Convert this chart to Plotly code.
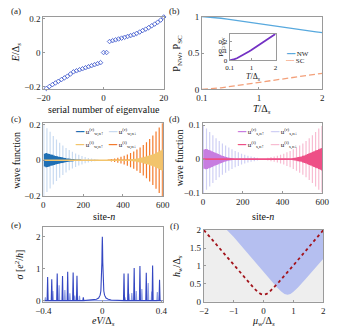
import plotly.graph_objects as go

W, H = 337, 335
SERIF = "Liberation Serif"

# ---------------- (a) eigenvalues ----------------
a_index = [-20, -19, -18, -17, -16, -15, -14, -13, -12, -11, -10, -9, -8, -7, -6, -5, -4, -3, -2, -1,
           0, 1,
           2, 3, 4, 5, 6, 7, 8, 9, 10, 11, 12, 13, 14, 15, 16, 17, 18, 19, 20]
a_energy = [-0.222, -0.212, -0.201, -0.19, -0.18, -0.17, -0.16, -0.15, -0.14, -0.127, -0.114,
            -0.108, -0.102, -0.096, -0.09, -0.084, -0.078, -0.072, -0.066, -0.06,
            0.0, 0.0,
            0.065, 0.07, 0.075, 0.08, 0.085, 0.09, 0.095, 0.1, 0.105, 0.113, 0.121, 0.13, 0.138,
            0.147, 0.158, 0.168, 0.179, 0.192, 0.21]

# ---------------- (b) probabilities ----------------
b_T = [0.1, 0.2, 0.3, 0.4, 0.5, 0.6, 0.7, 0.8, 0.9, 1.0, 1.1, 1.2, 1.3, 1.4, 1.5, 1.6, 1.7, 1.8, 1.9, 2.0]
b_NW = [1.0, 0.996, 0.988, 0.978, 0.966, 0.953, 0.94, 0.927, 0.913, 0.9, 0.887, 0.874, 0.861, 0.849,
        0.837, 0.825, 0.813, 0.802, 0.791, 0.78]
b_SC = [0.0, 0.004, 0.012, 0.022, 0.034, 0.047, 0.06, 0.073, 0.087, 0.1, 0.113, 0.126, 0.139, 0.151,
        0.163, 0.175, 0.187, 0.198, 0.209, 0.22]
b_ratio = [0.0, 0.004, 0.012, 0.022, 0.035, 0.049, 0.064, 0.079, 0.095, 0.111, 0.127, 0.144, 0.161,
           0.178, 0.195, 0.212, 0.23, 0.247, 0.264, 0.282]

# ---------------- (c) wave function (w) ----------------
c_sites_left = [2, 18, 34, 50, 66, 82, 98, 114, 130, 146, 162, 178, 194, 210, 226, 242, 258, 274]
c_r_dn = [0.205, 0.18, 0.16, 0.137, 0.117, 0.099, 0.083, 0.069, 0.057, 0.047, 0.038, 0.03, 0.024,
          0.018, 0.013, 0.009, 0.006, 0.004]
c_sites_left_b = [6, 14, 22, 30, 38, 46, 54, 62, 70, 78, 86, 94, 102, 110, 118, 126, 134, 142, 150,
                  158, 166, 174, 182, 190]
c_r_up = [0.036, 0.04, 0.038, 0.035, 0.032, 0.03, 0.027, 0.024, 0.022, 0.02, 0.018, 0.016, 0.014,
          0.012, 0.01, 0.009, 0.008, 0.007, 0.006, 0.005, 0.004, 0.003, 0.002, 0.001]
c_sites_right = [598, 582, 566, 550, 534, 518, 502, 486, 470, 454, 438, 422, 406, 390, 374, 358, 342, 326]
c_i_dn = [0.21, 0.185, 0.162, 0.14, 0.12, 0.102, 0.086, 0.072, 0.06, 0.049, 0.04, 0.032, 0.025,
          0.019, 0.014, 0.01, 0.007, 0.004]
c_sites_right_b = [0, 406, 414, 422, 430, 438, 446, 454, 462, 470, 478, 486, 494, 502, 510, 518,
                   526, 534, 542, 550, 558, 566, 574, 582, 590, 598]
c_i_up = [0.0, 0.001, 0.002, 0.003, 0.004, 0.005, 0.006, 0.007, 0.008, 0.01, 0.011, 0.013, 0.015,
          0.017, 0.02, 0.022, 0.025, 0.028, 0.031, 0.034, 0.037, 0.041, 0.045, 0.05, 0.055, 0.06]

# ---------------- (d) wave function (s) ----------------
d_sites_left = [2, 18, 34, 50, 66, 82, 98, 114, 130, 146, 162, 178, 194, 210, 226, 242, 258, 274]
d_r_dn = [0.1, 0.09, 0.08, 0.07, 0.061, 0.053, 0.046, 0.04, 0.034, 0.029, 0.024, 0.02, 0.016,
          0.013, 0.01, 0.008, 0.006, 0.004]
d_sites_left_b = [6, 14, 22, 30, 38, 46, 54, 62, 70, 78, 86, 94, 102, 110, 118, 126, 134, 142, 150]
d_r_up = [0.028, 0.03, 0.029, 0.027, 0.025, 0.023, 0.021, 0.019, 0.017, 0.015, 0.013, 0.011, 0.009,
          0.008, 0.006, 0.005, 0.004, 0.003, 0.002]
d_sites_right = [598, 582, 566, 550, 534, 518, 502, 486, 470, 454, 438, 422, 406, 390, 374, 358, 342, 326]
d_i_dn = [0.097, 0.09, 0.08, 0.07, 0.061, 0.053, 0.046, 0.04, 0.034, 0.029, 0.024, 0.02, 0.016,
          0.013, 0.01, 0.008, 0.006, 0.004]
d_sites_right_b = [0, 446, 454, 462, 470, 478, 486, 494, 502, 510, 518, 526, 534, 542, 550, 558,
                   566, 574, 582, 590, 598]
d_i_up = [0.0, 0.002, 0.003, 0.004, 0.005, 0.006, 0.007, 0.008, 0.01, 0.011, 0.013, 0.015, 0.017,
          0.019, 0.021, 0.023, 0.025, 0.027, 0.029, 0.031, 0.033]

# ---------------- (e) conductance ----------------
e_center_x = [-0.4, -0.06, -0.04, -0.025, -0.015, -0.01, -0.006, -0.003, -0.0015, 0.0, 0.0015,
              0.003, 0.006, 0.01, 0.015, 0.025, 0.04, 0.06, 0.41]
e_center_y = [0.0, 0.02, 0.04, 0.08, 0.17, 0.3, 0.6, 1.2, 1.7, 2.0, 1.7, 1.2, 0.6, 0.3, 0.17, 0.08,
              0.04, 0.02, 0.0]
e_peak_pos = [-0.371, -0.343, -0.306, -0.27, -0.235, -0.198, -0.172, -0.129,
              0.147, 0.175, 0.216, 0.255, 0.298, 0.341, 0.388]
e_peak_h = [0.74, 0.67, 0.85, 0.77, 0.9, 0.88, 0.78, 0.1,
            0.85, 0.85, 1.02, 1.08, 0.87, 1.1, 0.65]
e_sub_pos = [-0.386, -0.335, -0.293, -0.254, -0.22, -0.187, -0.155,
             0.154, 0.18, 0.2, 0.23, 0.268, 0.311, 0.335, 0.373]
e_sub_h = [0.1, 0.3, 0.48, 0.33, 0.23, 0.16, 0.15,
           0.1, 0.21, 0.24, 0.3, 0.36, 0.55, 0.28, 0.27]

# ---------------- (f) phase diagram ----------------
f_topo_mu = [-1.23, -1.0, -0.75, -0.5, -0.25, 0.0, 0.25, 0.45, 0.6, 0.7, 0.8, 0.9, 1.0, 1.15, 1.4,
             1.7, 2.0, 2.0]
f_topo_h = [2.0, 1.81, 1.56, 1.32, 1.07, 0.82, 0.58, 0.4, 0.28, 0.22, 0.2, 0.22, 0.28, 0.4, 0.63,
            0.92, 1.2, 2.0]
f_line_mu = [-2.0, -1.5, -1.0, -0.5, -0.3, -0.2, -0.1, 0.0, 0.1, 0.2, 0.3, 0.5, 1.0, 1.5, 2.0]
f_line_h = [2.0, 1.51, 1.02, 0.54, 0.36, 0.28, 0.22, 0.2, 0.22, 0.28, 0.36, 0.54, 1.02, 1.51, 2.0]


def spikes(sites, amps):
    xs, ys = [], []
    for s, a in zip(sites, amps):
        xs += [s, s, s, s]
        ys += [0, a, -a, 0]
    return xs, ys


def peaks(pos, hts, base, half):
    pts = []
    for p, h in zip(pos, hts):
        pts += [(p - half, 0.0), (p, h), (p + half, 0.0)]
    pts += list(base)
    pts.sort(key=lambda t: t[0])
    return [t[0] for t in pts], [t[1] for t in pts]


def xd(l, r):
    return [l / W, r / W]


def yd(t, b):
    return [1 - b / H, 1 - t / H]


GRAY = "#9a9a9a"


def axis(domain, anchor, **kw):
    d = dict(domain=domain, anchor=anchor, showline=True, mirror=True, linecolor=GRAY, linewidth=1,
             ticks="inside", ticklen=2, tickcolor=GRAY, showgrid=False, zeroline=False,
             tickfont=dict(family=SERIF, size=9, color="#222"))
    d.update(kw)
    return d


fig = go.Figure()

# (a)
fig.add_trace(go.Scatter(x=a_index, y=a_energy, mode="markers", xaxis="x", yaxis="y",
                         marker=dict(symbol="diamond-open", size=3.5, color="#4a62d0", line=dict(width=0.9)),
                         cliponaxis=False, showlegend=False))
# (b)
fig.add_trace(go.Scatter(x=b_T, y=b_NW, mode="lines", xaxis="x2", yaxis="y2",
                         line=dict(color="#58a9de", width=1.3), showlegend=False))
fig.add_trace(go.Scatter(x=b_T, y=b_SC, mode="lines", xaxis="x2", yaxis="y2",
                         line=dict(color="#f3a07a", width=1.3, dash="6px,3px"), showlegend=False))
# inset
fig.add_trace(go.Scatter(x=b_T, y=b_ratio, mode="lines", xaxis="x7", yaxis="y7",
                         line=dict(color="#7432c4", width=1.8), showlegend=False))
# (c)
for sites, amps, col, wd in [(c_sites_left, c_r_dn, "#c9dbf1", 1.2),
                             (c_sites_right, c_i_dn, "#f47a2a", 1.2),
                             (c_sites_left_b, c_r_up, "#1f6fb4", 1.6),
                             (c_sites_right_b, c_i_up, "#f2c46c", 1.6)]:
    xs, ys = spikes(sites, amps)
    fig.add_trace(go.Scatter(x=xs, y=ys, mode="lines", xaxis="x3", yaxis="y3",
                             line=dict(color=col, width=wd), showlegend=False))
# (d)
for sites, amps, col, wd in [(d_sites_left, d_r_dn, "#cfd0f5", 1.2),
                             (d_sites_right, d_i_dn, "#f8bcd2", 1.2),
                             (d_sites_left_b, d_r_up, "#c77de0", 1.6),
                             (d_sites_right_b, d_i_up, "#ee4f86", 1.6)]:
    xs, ys = spikes(sites, amps)
    fig.add_trace(go.Scatter(x=xs, y=ys, mode="lines", xaxis="x4", yaxis="y4",
                             line=dict(color=col, width=wd), showlegend=False))
# (e)
xs, ys = peaks(e_sub_pos, e_sub_h, [], 0.0035)
fig.add_trace(go.Scatter(x=xs, y=ys, mode="lines", xaxis="x5", yaxis="y5",
                         line=dict(color="#8e9de3", width=1.1), showlegend=False))
xs, ys = peaks(e_peak_pos, e_peak_h, zip(e_center_x, e_center_y), 0.0035)
fig.add_trace(go.Scatter(x=xs, y=ys, mode="lines", xaxis="x5", yaxis="y5",
                         line=dict(color="#3447c2", width=1.1), showlegend=False))
# (f)
fig.add_trace(go.Scatter(x=f_topo_mu, y=f_topo_h, mode="lines", fill="toself", xaxis="x6", yaxis="y6",
                         fillcolor="#b5bff0", line=dict(color="#b5bff0", width=0), showlegend=False))
fig.add_trace(go.Scatter(x=f_line_mu, y=f_line_h, mode="lines", xaxis="x6", yaxis="y6",
                         line=dict(color="#a3141c", width=1.8, dash="3px,3px"), showlegend=False))

it = lambda s: f"<i>{s}</i>"
Ds = "Δ<sub><i>s</i></sub>"
small = dict(family=SERIF, size=7, color="#222")

fig.update_layout(
    width=W, height=H, margin=dict(l=0, r=0, t=0, b=0),
    paper_bgcolor="white", plot_bgcolor="white",
    font=dict(family=SERIF, size=9, color="#222"),
    xaxis=axis(xd(37, 163), "y", range=[-20, 20], tickvals=[-20, 0, 20]),
    yaxis=axis(yd(12, 87), "x", range=[-0.218, 0.212], tickvals=[-0.2, 0, 0.2]),
    xaxis2=axis(xd(203, 329), "y2", range=[0.1, 2], tickvals=[0.1, 1, 2]),
    yaxis2=axis(yd(12, 87), "x2", range=[0, 1], tickvals=[0, 0.5, 1]),
    xaxis3=axis(xd(37, 162), "y3", range=[0, 600], tickvals=[0, 200, 400, 600]),
    yaxis3=axis(yd(122, 197), "x3", range=[-0.203, 0.208], tickvals=[-0.2, 0, 0.2]),
    xaxis4=axis(xd(204, 329), "y4", range=[0, 600], tickvals=[0, 200, 400, 600]),
    yaxis4=axis(yd(122, 194), "x4", range=[-0.1, 0.105], tickvals=[-0.1, 0, 0.1]),
    xaxis5=axis(xd(37, 162), "y5", range=[-0.4, 0.41], tickvals=[-0.4, 0, 0.4]),
    yaxis5=axis(yd(229, 306), "x5", range=[-0.04, 2.3], tickvals=[0, 1, 2]),
    xaxis6=axis(xd(205, 330), "y6", range=[-2, 2], tickvals=[-2, -1, 0, 1, 2]),
    yaxis6=axis(yd(232, 306), "x6", range=[0, 2], tickvals=[0, 0.5, 1, 1.5, 2]),
    xaxis7=axis(xd(232, 280), "y7", range=[0.1, 2], tickvals=[0.1, 1, 2], tickfont=small),
    yaxis7=axis(yd(30, 57), "x7", range=[0, 0.28], tickvals=[0, 0.1, 0.2], tickfont=small),
)
# panel (f) gray background
fig.add_shape(type="rect", xref="x6 domain", yref="y6 domain", x0=0, x1=1, y0=0, y1=1,
              fillcolor="#eeeeee", line=dict(width=0), layer="below")

ann = []


def txt(text, px, py, size=9, angle=0, xanchor="center", yanchor="middle", color="#111"):
    ann.append(dict(text=text, x=px / W, y=1 - py / H, xref="paper", yref="paper", showarrow=False,
                    xanchor=xanchor, yanchor=yanchor, textangle=angle,
                    font=dict(family=SERIF, size=size, color=color)))


for lab, px, py in [("(a)", 8, 6), ("(b)", 174, 6), ("(c)", 8, 117), ("(d)", 174, 117),
                    ("(e)", 8, 227), ("(f)", 174, 228)]:
    txt(lab, px, py, 9, color="#222")

# axis titles
txt("serial number of eigenvalue", 100, 108, 10)
txt(f"{it('E')}/{Ds}", 9, 49, 10, -90)
txt(f"{it('T')}/{Ds}", 266, 108, 10)
txt("P<sub>NW</sub>, P<sub>SC</sub>", 177, 50, 10, -90)
txt(f"{it('T')}/{Ds}", 256, 74, 8)
txt("P<sub>SC/NW</sub>", 223, 43, 7, -90)
txt(f"site-{it('n')}", 100, 218, 10)
txt("wave function", 9, 160, 10, -90)
txt(f"site-{it('n')}", 267, 218, 10)
txt("wave function", 179, 158, 10, -90)
txt(f"{it('eV')}/{Ds}", 100, 335, 10, yanchor="bottom")
txt(f"{it('σ')} [{it('e')}<sup>2</sup>/{it('h')}]", 11, 268, 10, -90)
txt(f"{it('μ')}<sub>{it('w')}</sub>/{Ds}", 267, 335, 10, yanchor="bottom")
txt(f"{it('h')}<sub>{it('w')}</sub>/{Ds}", 178, 269, 10, -90)


def leg(text, col, px, py, dash=False):
    sw = "╌╌" if dash else "━━"
    ann.append(dict(text=f'<span style="color:{col}">{sw}</span> {text}', x=px / W, y=1 - py / H,
                    xref="paper", yref="paper", xanchor="left", yanchor="middle", showarrow=False,
                    font=dict(family=SERIF, size=7, color="#222")))


leg("NW", "#58a9de", 289, 51)
leg("SC", "#f3a07a", 289, 58, dash=True)
leg("u<sup>(r)</sup><sub>w,n↑</sub>", "#1f6fb4", 68, 131)
leg("u<sup>(r)</sup><sub>w,n↓</sub>", "#c9dbf1", 103, 131)
leg("u<sup>(i)</sup><sub>w,n↑</sub>", "#f2c46c", 68, 144)
leg("u<sup>(i)</sup><sub>w,n↓</sub>", "#f47a2a", 103, 144)
leg("u<sup>(r)</sup><sub>s,n↑</sub>", "#c77de0", 238, 131)
leg("u<sup>(r)</sup><sub>s,n↓</sub>", "#cfd0f5", 272, 131)
leg("u<sup>(i)</sup><sub>s,n↑</sub>", "#ee4f86", 238, 144)
leg("u<sup>(i)</sup><sub>s,n↓</sub>", "#f8bcd2", 272, 144)
fig.update_layout(annotations=ann)

fig.write_html("out.html", config={"displayModeBar": False},
               post_script="document.body.style.margin='0';document.body.style.overflow='hidden';")
